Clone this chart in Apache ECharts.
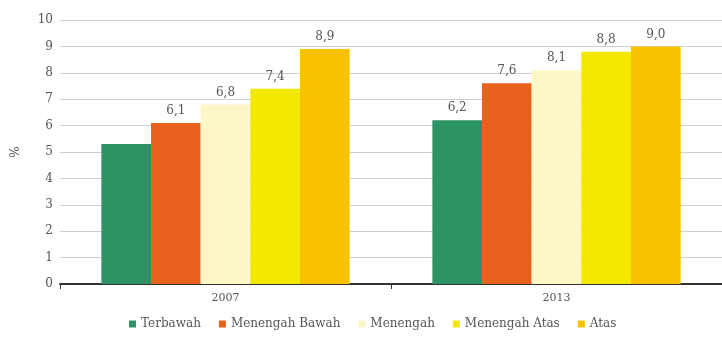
<!DOCTYPE html>
<html>
<head>
<meta charset="utf-8">
<script src="https://cdn.jsdelivr.net/npm/echarts@6/dist/echarts.min.js"></script>
<style>html,body{margin:0;padding:0;background:#fff}#c{width:722px;height:340px}</style>
</head>
<body>
<div id="c"></div>
<script>
var categories = ['2007', '2013'];
var seriesNames = ['Terbawah', 'Menengah Bawah', 'Menengah', 'Menengah Atas', 'Atas'];
var terbawah = [5.3, 6.2];
var menengahBawah = [6.1, 7.6];
var menengah = [6.8, 8.1];
var menengahAtas = [7.4, 8.8];
var atas = [8.9, 9.0];
var showLabels = [[false, true], [true, true], [true, true], [true, true], [true, true]];
var yTicks = [0, 10, 1];

var colors = ['#2b9364', '#e8621e', '#fdf7c8', '#f2e800', '#f8c200'];
var values = [terbawah, menengahBawah, menengah, menengahAtas, atas];
var FONT = 'DejaVu Serif';

var chart = echarts.init(document.getElementById('c'), null, {renderer: 'canvas'});
chart.setOption({
  animation: false,
  textStyle: {fontFamily: FONT},
  grid: {left: 60, right: 0, top: 20, bottom: 56, containLabel: false},
  legend: {
    bottom: 5,
    left: 124,
    icon: 'rect',
    itemWidth: 7,
    itemHeight: 7,
    itemGap: 18,
    textStyle: {fontFamily: FONT, fontSize: 12, color: '#555'},
    data: seriesNames
  },
  xAxis: {
    type: 'category',
    data: categories,
    axisLine: {lineStyle: {color: '#333', width: 2}},
    axisTick: {show: true, alignWithLabel: false, length: 5, lineStyle: {color: '#333'}},
    axisLabel: {color: '#555', fontSize: 11, fontFamily: FONT, margin: 9}
  },
  yAxis: {
    type: 'value',
    min: yTicks[0], max: yTicks[1], interval: yTicks[2],
    name: '%',
    nameLocation: 'middle',
    nameGap: 38,
    nameRotate: 90,
    nameTextStyle: {color: '#555', fontSize: 12, fontFamily: FONT},
    axisLine: {show: false},
    axisTick: {show: false},
    axisLabel: {color: '#555', fontSize: 12, fontFamily: FONT, margin: 7},
    splitLine: {lineStyle: {color: '#cfcfcf', width: 1}}
  },
  series: seriesNames.map(function (name, i) {
    return {
      name: name,
      type: 'bar',
      barGap: '0%',
      barCategoryGap: '25%',
      itemStyle: {color: colors[i]},
      label: {
        show: true,
        position: 'top',
        distance: 6,
        color: '#555',
        fontSize: 12,
        fontFamily: FONT,
        formatter: function (p) {
          if (!showLabels[i][p.dataIndex]) return '';
          return p.value.toFixed(1).replace('.', ',');
        }
      },
      data: values[i]
    };
  })
});
</script>
</body>
</html>
